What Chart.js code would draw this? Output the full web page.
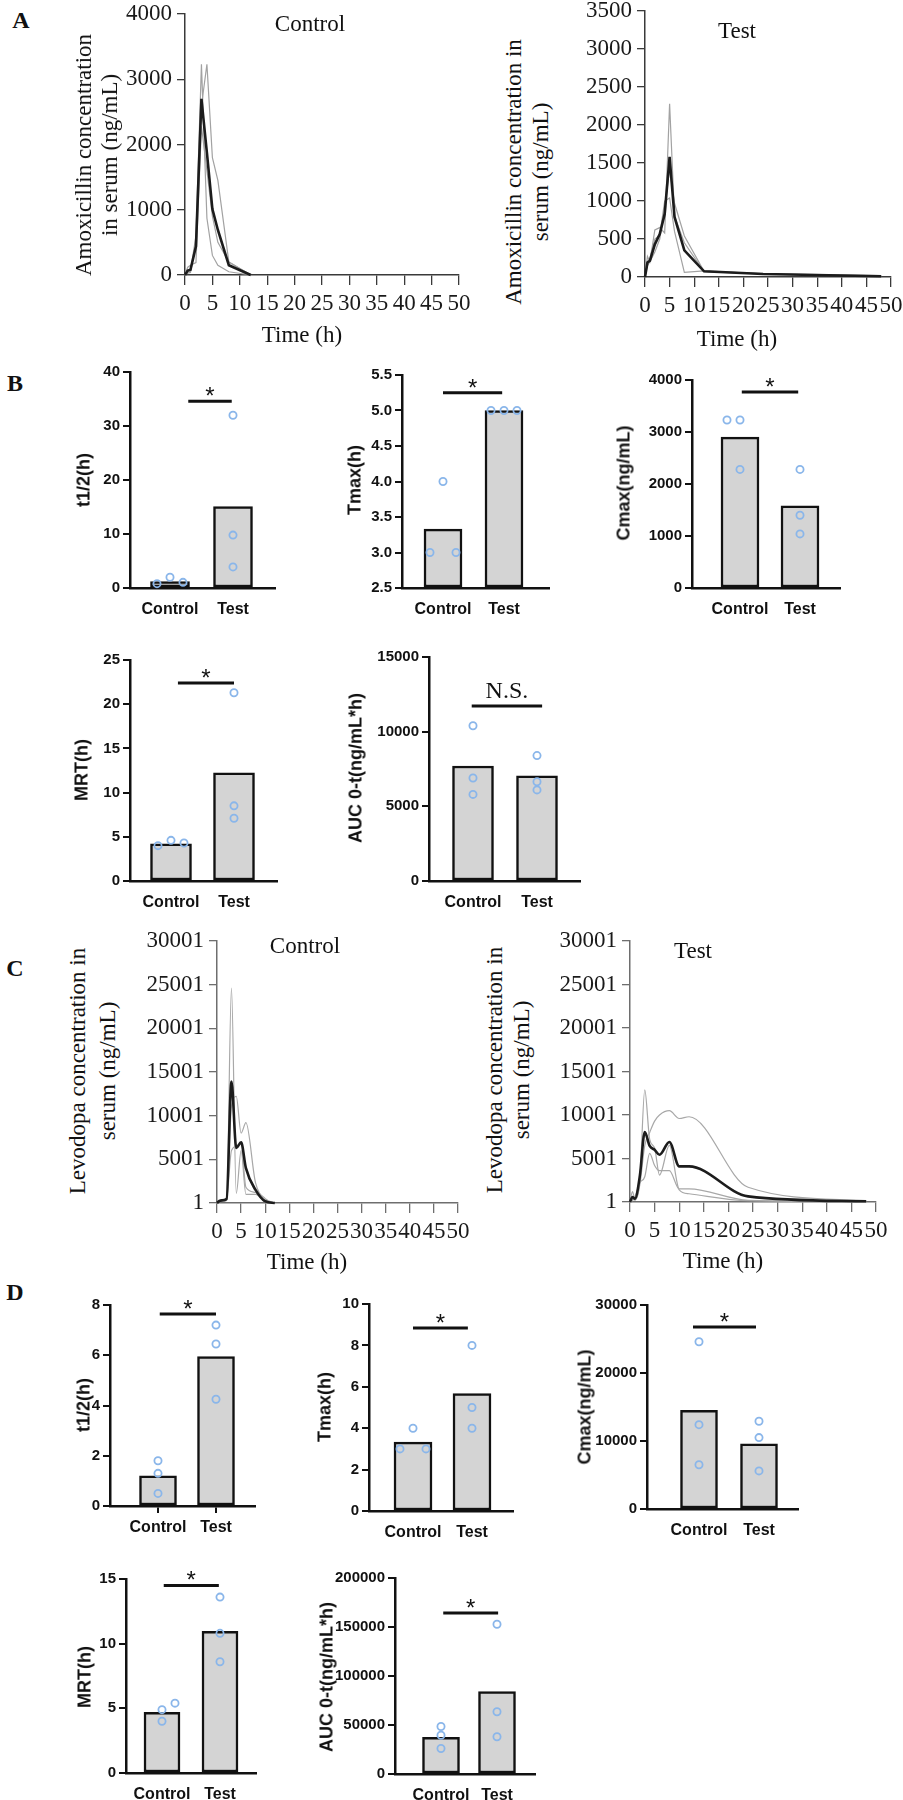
<!DOCTYPE html>
<html><head><meta charset="utf-8">
<script src="https://cdn.jsdelivr.net/npm/chart.js@4.4.1/dist/chart.umd.min.js"></script>
<style>
html,body{margin:0;padding:0;background:#fff;}
body{width:903px;height:1800px;position:relative;overflow:hidden;}
canvas{position:absolute;}
.t{position:absolute;white-space:nowrap;color:#111;line-height:1;transform:translate(-50%,-50%);}
.r{position:absolute;white-space:nowrap;color:#111;transform:translate(-50%,-50%) rotate(-90deg);text-align:center;}
.serif{font-family:'Liberation Serif','Times New Roman',serif;}
.sans{font-family:'Liberation Sans',Arial,sans-serif;font-weight:bold;}
</style></head><body>
<script>
// ---------------- DATA ----------------
const groupLabels = ['Control', 'Test'];
const timeTicks = [0, 5, 10, 15, 20, 25, 30, 35, 40, 45, 50];
const amoxCtrlTicks = [0, 1000, 2000, 3000, 4000];
const amoxTestTicks = [0, 500, 1000, 1500, 2000, 2500, 3000, 3500];
const levoTicks = [1, 5001, 10001, 15001, 20001, 25001, 30001];

// A: amoxicillin, control
const amoxCtrlTime = [0, 0.5, 1, 2, 3, 4, 5, 6, 8, 12];
const amoxCtrlRat1 = [0, 50, 60, 600, 3230, 870, 300, 150, 50, 0];
const amoxCtrlRat2 = [0, 30, 40, 500, 2590, 3230, 1800, 1450, 200, 0];
const amoxCtrlRat3 = [0, 120, 150, 190, 2280, 1600, 900, 500, 200, 0];
const amoxCtrlMean = [0, 67, 80, 440, 2700, 1870, 1010, 690, 150, 0];
// A: amoxicillin, test
const amoxTestTime = [0, 0.5, 1, 2, 3, 4, 5, 6, 8, 12, 24, 48];
const amoxTestRat1 = [0, 270, 200, 620, 650, 580, 2280, 800, 450, 70, 40, 15];
const amoxTestRat2 = [0, 150, 200, 330, 500, 900, 1420, 970, 540, 75, 45, 20];
const amoxTestRat3 = [0, 200, 250, 500, 550, 1000, 1040, 600, 60, 80, 40, 10];
const amoxTestMean = [0, 190, 215, 430, 565, 830, 1580, 790, 350, 75, 40, 10];
// C: levodopa, control
const levoCtrlTime = [0, 0.5, 1, 2, 3, 4, 5, 6, 8, 10, 12];
const levoCtrlRat1 = [0, 100, 200, 300, 24600, 1100, 6000, 1000, 1000, 300, 0];
const levoCtrlRat2 = [0, 150, 300, 500, 11000, 12200, 8000, 9200, 2300, 500, 0];
const levoCtrlRat3 = [0, 200, 350, 600, 6000, 6500, 6800, 1800, 1200, 100, 0];
const levoCtrlMean = [0, 230, 300, 460, 13900, 6300, 6950, 4000, 1500, 200, 0];
// C: levodopa, test
const levoTestTime = [0, 0.5, 1, 2, 3, 4, 5, 6, 8, 10, 12, 24, 48];
const levoTestRat1 = [0, 1200, 300, 2500, 12900, 7200, 6200, 3100, 6500, 1400, 950, 150, 30];
const levoTestRat2 = [0, 300, 200, 2000, 6500, 8000, 9300, 10000, 10500, 9600, 9800, 1700, 150];
const levoTestRat3 = [0, 200, 600, 2200, 2900, 5600, 4200, 3600, 3600, 1500, 1500, 200, 50];
const levoTestMean = [0, 570, 380, 3000, 8050, 6440, 6000, 5440, 6900, 4100, 4100, 650, 80];

// B: amoxicillin PK parameters (bar = mean, points = individual)
const bT12Mean = [1.2, 15.1];      const bT12Pts = [[0.8, 2.0, 1.05], [32.0, 9.8, 3.9]];
const bTmaxMean = [3.33, 5.0];     const bTmaxPts = [[3, 4, 3], [5, 5, 5]];
const bCmaxMean = [2900, 1580];    const bCmaxPts = [[3230, 3230, 2280], [2280, 1400, 1040]];
const bMrtMean = [4.2, 12.25];     const bMrtPts = [[4.0, 4.6, 4.3], [21.3, 8.5, 7.1]];
const bAucMean = [7700, 7050];     const bAucPts = [[10400, 6900, 5800], [8400, 6650, 6100]];
// D: levodopa PK parameters
const dT12Mean = [1.2, 5.95];      const dT12Pts = [[1.8, 1.3, 0.5], [7.2, 6.45, 4.25]];
const dTmaxMean = [3.33, 5.67];    const dTmaxPts = [[3, 4, 3], [8, 5, 4]];
const dCmaxMean = [14500, 9600];   const dCmaxPts = [[24600, 12400, 6500], [12900, 10500, 5600]];
const dMrtMean = [4.7, 10.95];     const dMrtPts = [[4.9, 4.0, 5.4], [13.6, 10.8, 8.6]];
const dAucMean = [37500, 84000];   const dAucPts = [[48500, 39500, 26000], [152800, 63500, 38000]];

const bT12Ticks = [0, 10, 20, 30, 40];
const bTmaxTicks = [2.5, 3.0, 3.5, 4.0, 4.5, 5.0, 5.5];
const bCmaxTicks = [0, 1000, 2000, 3000, 4000];
const bMrtTicks = [0, 5, 10, 15, 20, 25];
const bAucTicks = [0, 5000, 10000, 15000];
const dT12Ticks = [0, 2, 4, 6, 8];
const dTmaxTicks = [0, 2, 4, 6, 8, 10];
const dCmaxTicks = [0, 10000, 20000, 30000];
const dMrtTicks = [0, 5, 10, 15];
const dAucTicks = [0, 50000, 100000, 150000, 200000];

// ---------------- HELPERS ----------------
const SERIF = "'Liberation Serif','Times New Roman',serif";
const SANS = "'Liberation Sans',Arial,sans-serif";

function fixAxis(size, horizontal) {
  return function (scale) {
    if (horizontal) scale.height = size; else scale.width = size;
    scale.paddingLeft = 0; scale.paddingRight = 0; scale.paddingTop = 0; scale.paddingBottom = 0;
  };
}
function setTicks(arr) {
  return function (scale) { scale.ticks = arr.map(v => ({ value: v })); };
}
function makeCanvas(area, pad) {
  const c = document.createElement('canvas');
  const w = pad.yw + (area.r - area.l) + pad.right;
  const h = pad.top + (area.b - area.t) + pad.xh;
  c.width = w; c.height = h;
  c.style.left = (area.l - pad.yw) + 'px';
  c.style.top = (area.t - pad.top) + 'px';
  c.style.width = w + 'px'; c.style.height = h + 'px';
  document.body.appendChild(c);
  return c;
}
function text(str, x, y, cls, size, extra) {
  const d = document.createElement('div');
  d.className = cls;
  d.style.left = x + 'px'; d.style.top = y + 'px';
  d.style.fontSize = size + 'px';
  if (extra) Object.assign(d.style, extra);
  d.innerHTML = str;
  document.body.appendChild(d);
}

// ---------------- LINE CHARTS ----------------
function lineChart(area, times, series, yTicks, opts) {
  const pad = { yw: 80, xh: 50, top: 14, right: opts.right || 16 };
  const canvas = makeCanvas(area, pad);
  const n = series.length;
  const datasets = series.map((s, i) => {
    const mean = i === n - 1;
    return {
      data: times.map((t, k) => ({ x: t, y: s[k] })),
      borderColor: mean ? '#1c1c1c' : opts.gray,
      borderWidth: mean ? 2.6 : 1.2,
      pointRadius: 0,
      tension: 0,
      cubicInterpolationMode: opts.smooth ? 'monotone' : 'default',
      order: mean ? 0 : 1,
      clip: 4
    };
  });
  new Chart(canvas, {
    type: 'line',
    data: { datasets },
    options: {
      responsive: false, animation: false, devicePixelRatio: 1,
      layout: { padding: { top: pad.top, right: pad.right, left: 0, bottom: 0 } },
      plugins: { legend: { display: false }, tooltip: { enabled: false } },
      events: [],
      scales: {
        x: {
          type: 'linear', min: 0, max: 50, bounds: 'data',
          afterFit: fixAxis(pad.xh, true), afterBuildTicks: setTicks(timeTicks),
          grid: { display: true, drawOnChartArea: false, drawTicks: true, tickLength: 10, color: opts.axis, lineWidth: 1.3 },
          border: { display: true, color: opts.axis, width: 1.5 },
          ticks: { autoSkip: false, maxRotation: 0, minRotation: 0, padding: 5, color: '#1a1a1a',
                   font: { family: SERIF, size: 23 }, callback: v => String(v) }
        },
        y: {
          type: 'linear', min: yTicks[0], max: yTicks[yTicks.length - 1], bounds: 'data',
          afterFit: fixAxis(pad.yw, false), afterBuildTicks: setTicks(yTicks),
          grid: { display: true, drawOnChartArea: false, drawTicks: true, tickLength: 8, color: opts.axis, lineWidth: 1.3 },
          border: { display: true, color: opts.axis, width: 1.5 },
          ticks: { autoSkip: false, padding: 5, color: '#1a1a1a', font: { family: SERIF, size: 23 }, callback: v => String(v) }
        }
      }
    }
  });
}

// ---------------- BAR CHARTS ----------------
const sigPlugin = {
  id: 'sig',
  afterDatasetsDraw(chart, args, o) {
    if (!o || o.y === undefined) return;
    const ctx = chart.ctx, xs = chart.scales.x, ys = chart.scales.y;
    const x0 = xs.getPixelForValue(o.from), x1 = xs.getPixelForValue(o.to);
    const y = ys.getPixelForValue(o.y);
    ctx.save();
    ctx.strokeStyle = '#111'; ctx.lineWidth = 3;
    ctx.beginPath(); ctx.moveTo(x0, y); ctx.lineTo(x1, y); ctx.stroke();
    ctx.fillStyle = '#111'; ctx.textAlign = 'center'; ctx.textBaseline = 'alphabetic';
    if (o.text === '*') { ctx.font = '24px ' + SANS; ctx.fillText('*', (x0 + x1) / 2, y + 3); }
    else { ctx.font = '24px ' + SERIF; ctx.fillText(o.text, (x0 + x1) / 2, y - 8); }
    ctx.restore();
  }
};

function barChart(spec) {
  const pad = { yw: 72, xh: 40, top: 18, right: 10 };
  const a = spec.area;
  const canvas = makeCanvas(a, pad);
  const unit = spec.centers[1] - spec.centers[0];
  const xmin = -(spec.centers[0] - a.l) / unit;
  const xmax = 1 + (a.r - spec.centers[1]) / unit;
  const jit = 13 / unit;
  const pts = [];
  spec.pts.forEach((g, gi) => g.forEach((v, k) => pts.push({ x: gi + spec.jit[gi][k] * jit, y: v })));
  const yMin = spec.ticks[0], yMax = spec.ticks[spec.ticks.length - 1];
  new Chart(canvas, {
    type: 'bar',
    data: {
      datasets: [
        { type: 'scatter', data: pts, pointRadius: 3.6, pointBorderWidth: 1.8, pointBorderColor: '#8ab6ea',
          pointBackgroundColor: 'rgba(255,255,255,0)', clip: false, order: 0 },
        { type: 'bar', data: spec.means.map((m, i) => ({ x: i, y: m })), base: yMin,
          backgroundColor: '#d4d4d4', borderColor: '#111', borderWidth: 2.5, borderSkipped: false,
          barThickness: spec.barW, order: 1 }
      ]
    },
    options: {
      responsive: false, animation: false, devicePixelRatio: 1, events: [],
      layout: { padding: { top: pad.top, right: pad.right, left: 0, bottom: 0 } },
      plugins: { legend: { display: false }, tooltip: { enabled: false }, sig: spec.sig },
      scales: {
        x: {
          type: 'linear', min: xmin, max: xmax, bounds: 'data', offset: false,
          afterFit: fixAxis(pad.xh, true), afterBuildTicks: setTicks([0, 1]),
          grid: { display: true, offset: false, drawOnChartArea: false, drawTicks: !!spec.xTickMarks, tickLength: 7, color: '#111', lineWidth: 2 },
          border: { display: true, color: '#111', width: 2.5 },
          ticks: { autoSkip: false, maxRotation: 0, minRotation: 0, padding: spec.xTickMarks ? 5 : 12, color: '#111',
                   font: { family: SANS, size: 16, weight: 'bold' }, callback: (v, i) => groupLabels[i] }
        },
        y: {
          type: 'linear', min: yMin, max: yMax, bounds: 'data', beginAtZero: false,
          afterFit: fixAxis(pad.yw, false), afterBuildTicks: setTicks(spec.ticks),
          grid: { display: true, drawOnChartArea: false, drawTicks: true, tickLength: 7, color: '#111', lineWidth: 2 },
          border: { display: true, color: '#111', width: 2.5 },
          ticks: { autoSkip: false, padding: 3, color: '#111', font: { family: SANS, size: 15, weight: 'bold' },
                   callback: v => spec.dec ? v.toFixed(spec.dec) : String(v) }
        }
      }
    },
    plugins: [sigPlugin]
  });
  text(spec.title, spec.titlePos[0], spec.titlePos[1], 'r sans', 18);
}

// ---------------- BUILD ----------------
const AX_A = '#3a3a3a', AX_C = '#6e6e6e';
lineChart({ l: 185, t: 14, r: 459, b: 275 }, amoxCtrlTime, [amoxCtrlRat1, amoxCtrlRat2, amoxCtrlRat3, amoxCtrlMean], amoxCtrlTicks, { axis: AX_A, gray: '#a2a2a2', smooth: false });
lineChart({ l: 645, t: 11, r: 891, b: 277 }, amoxTestTime, [amoxTestRat1, amoxTestRat2, amoxTestRat3, amoxTestMean], amoxTestTicks, { axis: AX_A, gray: '#a2a2a2', smooth: false, right: 12 });
lineChart({ l: 217, t: 941, r: 458, b: 1203 }, levoCtrlTime, [levoCtrlRat1, levoCtrlRat2, levoCtrlRat3, levoCtrlMean], levoTicks, { axis: AX_C, gray: '#a8a8a8', smooth: true });
lineChart({ l: 630, t: 941, r: 876, b: 1202 }, levoTestTime, [levoTestRat1, levoTestRat2, levoTestRat3, levoTestMean], levoTicks, { axis: AX_C, gray: '#a8a8a8', smooth: true, right: 20 });

barChart({ area: { l: 130, t: 372, r: 275, b: 588 }, centers: [170, 233], barW: 39, ticks: bT12Ticks, means: bT12Mean, pts: bT12Pts,
  jit: [[-1, 0, 1], [0, 0, 0]], sig: { y: 34.6, from: 0.29, to: 0.98, text: '*' }, title: 't1/2(h)', titlePos: [84, 480] });
barChart({ area: { l: 402, t: 375, r: 549, b: 588 }, centers: [443, 504], barW: 38, ticks: bTmaxTicks, dec: 1, means: bTmaxMean, pts: bTmaxPts,
  jit: [[-1, 0, 1], [-1, 0, 1]], sig: { y: 5.25, from: 0, to: 0.97, text: '*' }, title: 'Tmax(h)', titlePos: [355, 480] });
barChart({ area: { l: 692, t: 380, r: 840, b: 588 }, centers: [740, 800], barW: 38, ticks: bCmaxTicks, means: bCmaxMean, pts: bCmaxPts,
  jit: [[-1, 0, 0], [0, 0, 0]], sig: { y: 3770, from: 0.03, to: 0.97, text: '*' }, title: 'Cmax(ng/mL)', titlePos: [624, 483] });
barChart({ area: { l: 130, t: 660, r: 277, b: 881 }, centers: [171, 234], barW: 41, ticks: bMrtTicks, means: bMrtMean, pts: bMrtPts,
  jit: [[-1, 0, 1], [0, 0, 0]], sig: { y: 22.4, from: 0.11, to: 1.0, text: '*' }, title: 'MRT(h)', titlePos: [82, 770] });
barChart({ area: { l: 429, t: 657, r: 580, b: 881 }, centers: [473, 537], barW: 41, ticks: bAucTicks, means: bAucMean, pts: bAucPts,
  jit: [[0, 0, 0], [0, 0, 0]], sig: { y: 11720, from: -0.02, to: 1.08, text: 'N.S.' }, title: 'AUC 0-t(ng/mL*h)', titlePos: [356, 768] });

barChart({ area: { l: 110, t: 1305, r: 255, b: 1506 }, centers: [158, 216], barW: 37, ticks: dT12Ticks, means: dT12Mean, pts: dT12Pts,
  jit: [[0, 0, 0], [0, 0, 0]], sig: { y: 7.64, from: 0.03, to: 1.0, text: '*' }, xTickMarks: true, title: 't1/2(h)', titlePos: [84, 1405] });
barChart({ area: { l: 369, t: 1304, r: 513, b: 1511 }, centers: [413, 472], barW: 38, ticks: dTmaxTicks, means: dTmaxMean, pts: dTmaxPts,
  jit: [[-1, 0, 1], [0, 0, 0]], sig: { y: 8.84, from: 0, to: 0.93, text: '*' }, title: 'Tmax(h)', titlePos: [325, 1407] });
barChart({ area: { l: 647, t: 1305, r: 798, b: 1509 }, centers: [699, 759], barW: 37, ticks: dCmaxTicks, means: dCmaxMean, pts: dCmaxPts,
  jit: [[0, 0, 0], [0, 0, 0]], sig: { y: 26760, from: -0.1, to: 0.95, text: '*' }, title: 'Cmax(ng/mL)', titlePos: [585, 1407] });
barChart({ area: { l: 126, t: 1579, r: 256, b: 1773 }, centers: [162, 220], barW: 36, ticks: dMrtTicks, means: dMrtMean, pts: dMrtPts,
  jit: [[0, 0, 1], [0, 0, 0]], sig: { y: 14.5, from: 0.03, to: 0.98, text: '*' }, title: 'MRT(h)', titlePos: [85, 1677] });
barChart({ area: { l: 395, t: 1578, r: 535, b: 1774 }, centers: [441, 497], barW: 37, ticks: dAucTicks, means: dAucMean, pts: dAucPts,
  jit: [[0, 0, 0], [0, 0, 0]], sig: { y: 164300, from: 0.04, to: 1.02, text: '*' }, title: 'AUC 0-t(ng/mL*h)', titlePos: [327, 1677] });

// ---------------- TEXT ----------------
text('A', 21, 20, 't serif', 24, { fontWeight: 'bold' });
text('B', 15, 383, 't serif', 24, { fontWeight: 'bold' });
text('C', 15, 968, 't serif', 24, { fontWeight: 'bold' });
text('D', 15, 1292, 't serif', 24, { fontWeight: 'bold' });

text('Control', 310, 23, 't serif', 23);
text('Test', 737, 30, 't serif', 23);
text('Control', 305, 945, 't serif', 23);
text('Test', 693, 950, 't serif', 23);

text('Time (h)', 302, 334, 't serif', 23);
text('Time (h)', 737, 338, 't serif', 23);
text('Time (h)', 307, 1261, 't serif', 23);
text('Time (h)', 723, 1260, 't serif', 23);

text('Amoxicillin concentration<br>in serum (ng/mL)', 97, 155, 'r serif', 23, { lineHeight: '26px' });
text('Amoxicillin concentration in<br>serum (ng/mL)', 527, 172, 'r serif', 23, { lineHeight: '27px' });
text('Levodopa concentration in<br>serum (ng/mL)', 93, 1071, 'r serif', 23, { lineHeight: '30px' });
text('Levodopa concentration in<br>serum (ng/mL)', 508, 1070, 'r serif', 23, { lineHeight: '27px' });
</script>
</body></html>
